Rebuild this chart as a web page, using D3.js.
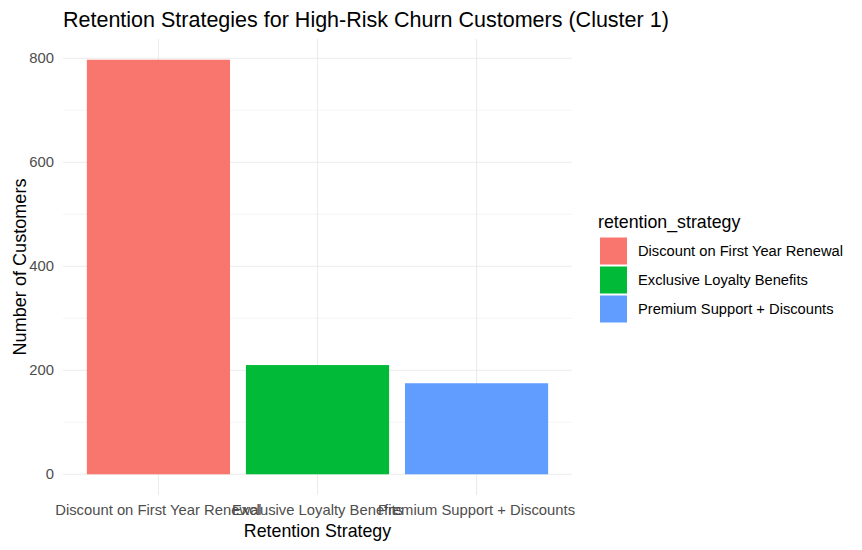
<!DOCTYPE html>
<html><head><meta charset="utf-8">
<script src="https://cdn.jsdelivr.net/npm/d3@7"></script>
<style>body{margin:0;background:#fff}svg{display:block}text{font-family:"Liberation Sans",Arial,sans-serif}</style>
</head><body><svg id="c" width="862" height="550"></svg>
<script>
const categories = ["Discount on First Year Renewal","Exclusive Loyalty Benefits","Premium Support + Discounts"];
const counts = [797, 210, 175];
const colors = ["#F8766D","#00BA38","#619CFF"];
const yTicks = [0,200,400,600,800];
const yMinor = [100,300,500,700];

const svg = d3.select("#c");
const P = {l:63, r:572, t:39, b:495};
const maxV = d3.max(counts);
// ggplot discrete: expand 0.6 units each side
const n = categories.length, span = n - 1 + 1.2, unit = (P.r-P.l)/span;
const cx = d3.scalePoint().domain(categories).range([P.l+0.6*unit, P.r-0.6*unit]);
const y = d3.scaleLinear().domain([-0.05*maxV, maxV*1.05]).range([P.b, P.t]);

const g = svg.append("g");
g.selectAll(".mn").data(yMinor).join("line")
 .attr("x1",P.l).attr("x2",P.r).attr("y1",d=>y(d)).attr("y2",d=>y(d))
 .attr("stroke","#ebebeb").attr("stroke-width",0.55);
g.selectAll(".mj").data(yTicks).join("line")
 .attr("x1",P.l).attr("x2",P.r).attr("y1",d=>y(d)).attr("y2",d=>y(d))
 .attr("stroke","#ebebeb").attr("stroke-width",1.07);
g.selectAll(".vx").data(categories).join("line")
 .attr("x1",d=>cx(d)).attr("x2",d=>cx(d)).attr("y1",P.t).attr("y2",P.b)
 .attr("stroke","#ebebeb").attr("stroke-width",1.07);

const bw = unit*0.9;
g.selectAll(".bar").data(categories).join("rect")
 .attr("x",d=>cx(d)-bw/2).attr("width",bw)
 .attr("y",(d,i)=>y(counts[i])).attr("height",(d,i)=>y(0)-y(counts[i]))
 .attr("fill",(d,i)=>colors[i]);

g.selectAll(".yt").data(yTicks).join("text")
 .attr("x",54).attr("y",d=>y(d)).attr("dy","0.35em")
 .attr("text-anchor","end").attr("font-size",14.8).attr("fill","#4d4d4d").text(d=>d);
g.selectAll(".xt").data(categories).join("text")
 .attr("x",d=>cx(d)).attr("y",515)
 .attr("text-anchor","middle").attr("font-size",14.8).attr("fill","#4d4d4d").text(d=>d);

svg.append("text").attr("x",(P.l+P.r)/2).attr("y",537).attr("text-anchor","middle")
 .attr("font-size",17.8).attr("fill","#000").text("Retention Strategy");
svg.append("text").attr("transform",`translate(25.5,${(P.t+P.b)/2}) rotate(-90)`)
 .attr("text-anchor","middle").attr("font-size",18.1).attr("fill","#000").text("Number of Customers");
svg.append("text").attr("x",63).attr("y",27).attr("font-size",21.5).attr("fill","#000")
 .text("Retention Strategies for High-Risk Churn Customers (Cluster 1)");

const lg = svg.append("g");
lg.append("text").attr("x",598).attr("y",228).attr("font-size",17.8).attr("fill","#000").text("retention_strategy");
const ks = 29, ky0 = 237.5;
lg.selectAll(".k").data(categories).join("rect")
 .attr("x",600).attr("y",(d,i)=>ky0+i*ks).attr("width",27).attr("height",27)
 .attr("fill",(d,i)=>colors[i]);
lg.selectAll(".kl").data(categories).join("text")
 .attr("x",638).attr("y",(d,i)=>ky0+i*ks+13.5).attr("dy","0.35em")
 .attr("font-size",14.7).attr("fill","#000").text(d=>d);
</script></body></html>
